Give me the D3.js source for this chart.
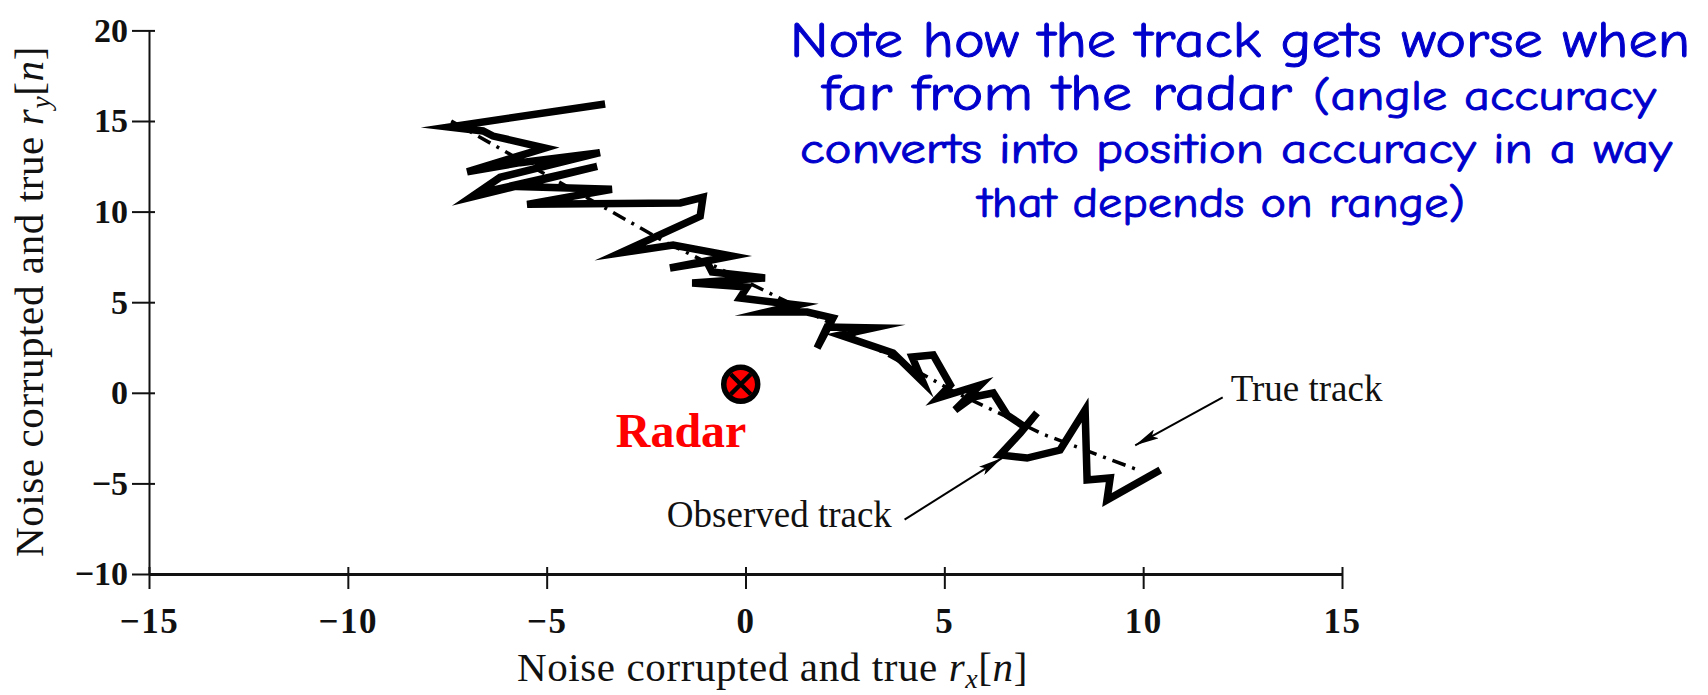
<!DOCTYPE html>
<html>
<head>
<meta charset="utf-8">
<script src="https://cdn.jsdelivr.net/npm/d3@7"></script>
<style>
  body { margin: 0; background: #fff; }
  svg { display: block; }
</style>
</head>
<body>
<script>
// ---- data ----
var xTicks = [-15, -10, -5, 0, 5, 10, 15];
var yTicks = [-10, -5, 0, 5, 10, 15, 20];

// observed (noisy) track
var obsX = [-3.53,-7.45,-6.60,-6.35,-5.04,-7.0,-5.67,-3.66,-6.17,-6.9,-3.73,-5.92,-3.36,-5.49,-1.64,-1.07,-1.14,-3.15,-1.82,-0.34,-1.90,-0.97,-0.84,0.49,-1.34,0.04,-0.14,1.30,0.54,1.55,2.20,1.80,2.05,3.21,2.38,3.71,4.46,4.19,4.72,5.15,4.84,5.90,5.27,5.72,6.23,6.58,7.03,7.33,6.91,6.40,7.08,7.91,8.54,8.59,9.17,9.09,10.43];
var obsY = [15.94,14.67,14.45,14.17,13.51,12.20,12.70,13.25,11.89,10.8,12.50,11.40,11.23,10.40,10.48,10.79,9.74,7.72,8.16,7.55,6.89,7.22,6.67,6.34,6.06,5.84,5.23,4.85,4.46,4.46,4.13,2.47,3.63,3.58,3.19,2.20,0.60,1.98,2.09,0.43,-0.29,0.43,-0.95,-0.23,-0.01,-1.23,-1.89,-1.11,-2.22,-3.43,-3.60,-3.16,-0.95,-4.81,-4.70,-5.92,-4.26];

// true track
var trueX = [-7.4, -2.0, 2.0, 5.3, 7.5, 9.8];
var trueY = [15.0, 8.3, 4.0, 0.0, -2.3, -4.2];

var radar = [-0.12, 0.47];

var noteLines = [
  "Note how the track gets worse when",
  "far from the radar ",
  "(angle accuracy",
  "converts into position accuracy in a way",
  "that depends on range)"
];

// ---- chart ----
var W = 1708, H = 695;
var svg = d3.select("body").append("svg").attr("width", W).attr("height", H);

var x = d3.scaleLinear().domain([-15, 15]).range([149, 1342]);
var y = d3.scaleLinear().domain([-10, 20]).range([574, 30.4]);

var serif = "'Liberation Serif', 'Times New Roman', serif";

// y axis
var gy = svg.append("g").attr("transform", "translate(" + x(-15) + ",0)")
  .call(d3.axisLeft(y).tickValues(yTicks).tickSize(17).tickSizeOuter(0).tickPadding(4));
gy.select(".domain").attr("stroke", "#111").attr("stroke-width", 2);
gy.selectAll(".tick line").attr("x1", 6).attr("stroke", "#111").attr("stroke-width", 2);
gy.selectAll(".tick text").attr("font-family", serif).attr("font-weight", "bold")
  .attr("font-size", 34).attr("fill", "#111");

// x axis
var gx = svg.append("g").attr("transform", "translate(0," + y(-10) + ")")
  .call(d3.axisBottom(x).tickValues(xTicks).tickSize(15).tickSizeOuter(0).tickPadding(19));
gx.select(".domain").attr("stroke", "#111").attr("stroke-width", 3);
gx.selectAll(".tick line").attr("y1", -7).attr("stroke", "#111").attr("stroke-width", 2);
gx.selectAll(".tick text").attr("font-family", serif).attr("font-weight", "bold")
  .attr("font-size", 35).attr("letter-spacing", 1.5).attr("fill", "#111");

// axis titles
function title(sel, sub) {
  sel.attr("font-family", serif).attr("font-size", 41).attr("letter-spacing", 0.6).attr("fill", "#111");
  sel.append("tspan").text("Noise corrupted and true ");
  sel.append("tspan").attr("font-style", "italic").text("r");
  sel.append("tspan").attr("font-style", "italic").attr("font-size", 28).attr("dy", 7).text(sub);
  sel.append("tspan").attr("dy", -7).text("[");
  sel.append("tspan").attr("font-style", "italic").text("n");
  sel.append("tspan").text("]");
}
title(svg.append("text").attr("x", 517).attr("y", 681), "x");
title(svg.append("text").attr("transform", "translate(43,557) rotate(-90)"), "y");

// tracks
var line = d3.line().x(function (d) { return x(d[0]); }).y(function (d) { return y(d[1]); });

svg.append("path")
  .datum(obsX.map(function (v, i) { return [v, obsY[i]]; }))
  .attr("d", line)
  .attr("fill", "none").attr("stroke", "#000").attr("stroke-width", 7.5)
  .attr("stroke-linejoin", "miter").attr("stroke-miterlimit", 9);

svg.append("path")
  .datum(trueX.map(function (v, i) { return [v, trueY[i]]; }))
  .attr("d", line)
  .attr("fill", "none").attr("stroke", "#000").attr("stroke-width", 3.5)
  .attr("stroke-dasharray", "14,7,3,7");

// arrows
var defs = svg.append("defs");
defs.append("marker").attr("id", "arr").attr("viewBox", "0 0 24 10")
  .attr("refX", 24).attr("refY", 5).attr("markerWidth", 24).attr("markerHeight", 10)
  .attr("markerUnits", "userSpaceOnUse").attr("orient", "auto")
  .append("path").attr("d", "M0,0 L24,5 L0,10 L5,5 Z").attr("fill", "#000");

function arrow(x0, y0, x1, y1) {
  svg.append("line").attr("x1", x(x0)).attr("y1", y(y0)).attr("x2", x(x1)).attr("y2", y(y1))
    .attr("stroke", "#000").attr("stroke-width", 2).attr("marker-end", "url(#arr)");
}
arrow(4.0, -7.0, 6.45, -3.6);
arrow(12.0, -0.25, 9.8, -2.9);

svg.append("text").attr("x", x(12.2)).attr("y", y(-0.45))
  .attr("font-family", serif).attr("font-size", 37).attr("fill", "#111").text("True track");
svg.append("text").attr("x", x(3.68)).attr("y", y(-7.4)).attr("text-anchor", "end")
  .attr("font-family", serif).attr("font-size", 37).attr("fill", "#111").text("Observed track");

// radar marker
var rg = svg.append("g").attr("transform", "translate(" + x(radar[0]) + "," + y(radar[1]) + ")");
rg.append("circle").attr("r", 17).attr("fill", "#ff0000").attr("stroke", "#000").attr("stroke-width", 5.5);
rg.append("path").attr("d", "M-10,-10 L10,10 M10,-10 L-10,10")
  .attr("stroke", "#000").attr("stroke-width", 4.5);
svg.append("text").attr("x", x(-1.62)).attr("y", y(-3.0)).attr("text-anchor", "middle")
  .attr("font-family", serif).attr("font-weight", "bold").attr("font-size", 48)
  .attr("fill", "#ff0000").text("Radar");

// blue note
var noteFont = "'Comic Sans MS', 'Comic Neue', 'Open Sans', sans-serif";
var blue = "#0000cc";
var note = [
  { t: noteLines[0], x: 790, y: 57, w: 900, s: 50 },
  { t: noteLines[1], x: 822, y: 110, w: 470, s: 50 },
  { t: noteLines[2], x: 1313, y: 110, w: 343, s: 42 },
  { t: noteLines[3], x: 800, y: 163, w: 872, s: 42 },
  { t: noteLines[4], x: 978, y: 217, w: 487, s: 42 }
];
svg.selectAll("text.note").data(note).enter().append("text")
  .attr("class", "note")
  .attr("x", function (d) { return d.x; })
  .attr("y", function (d) { return d.y; })
  .attr("font-family", noteFont)
  .attr("font-size", function (d) { return d.s; })
  .attr("textLength", function (d) { return d.w; })
  .attr("lengthAdjust", "spacingAndGlyphs")
  .attr("fill", blue).attr("stroke", blue).attr("stroke-width", 0.9)
  .text(function (d) { return d.t; });
</script>
</body>
</html>
